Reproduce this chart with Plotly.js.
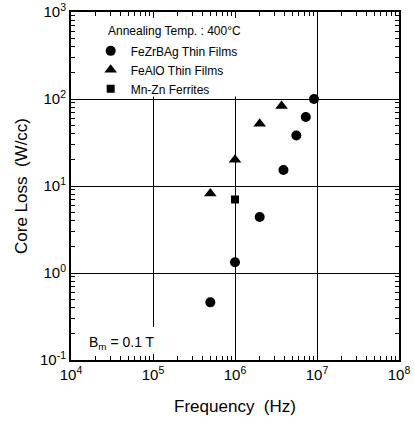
<!DOCTYPE html>
<html>
<head>
<meta charset="utf-8">
<script src="https://cdn.plot.ly/plotly-3.0.1.min.js"></script>
<style>html,body{margin:0;padding:0;background:#fff;}#chart{width:414px;height:422px;}</style>
</head>
<body>
<div id="chart"></div>
<script>
// Data
var fezrFreq = [5e5, 1e6, 2e6, 3.9e6, 5.6e6, 7.3e6, 9.2e6];
var fezrLoss = [0.46, 1.33, 4.4, 15.3, 38, 62, 100];
var fealoFreq = [5e5, 1e6, 2e6, 3.7e6];
var fealoLoss = [8.2, 20, 52, 83];
var mnznFreq = [1e6];
var mnznLoss = [7.0];

var xDecades = [4, 5, 6, 7, 8];
var yDecades = [-1, 0, 1, 2, 3];
var seriesNames = ['FeZrBAg Thin Films', 'FeAlO Thin Films', 'Mn-Zn Ferrites'];

function majorVals(dec) { return dec.map(function (d) { return Math.pow(10, d); }); }
function majorText(dec) { return dec.map(function (d) { return '10<sup>' + (d < 0 ? '-' : '') + Math.abs(d) + '</sup>'; }); }
function minorVals(dec) {
  var v = [];
  for (var i = 0; i < dec.length - 1; i++) for (var k = 2; k <= 9; k++) v.push(k * Math.pow(10, dec[i]));
  return v;
}

var font = 'Liberation Sans, Arial, sans-serif';

var traces = [
  {x: fezrFreq, y: fezrLoss, name: seriesNames[0], mode: 'markers', type: 'scatter',
   marker: {symbol: 'circle', size: 10, color: '#000'}},
  {x: fealoFreq, y: fealoLoss, name: seriesNames[1], mode: 'markers', type: 'scatter',
   marker: {symbol: 'triangle-up', size: 11, color: '#000'}},
  {x: mnznFreq, y: mnznLoss, name: seriesNames[2], mode: 'markers', type: 'scatter',
   marker: {symbol: 'square', size: 8, color: '#000'}}
];

var axisCommon = {
  type: 'log', showline: true, linecolor: '#000', linewidth: 2, mirror: 'ticks',
  ticks: 'inside', ticklen: 6, tickwidth: 1, tickcolor: '#000',
  showgrid: true, gridcolor: '#000', gridwidth: 1, zeroline: false,
  tickfont: {family: font, size: 15, color: '#000'}
};

var layout = {
  width: 414, height: 422,
  margin: {l: 71, r: 15, t: 12, b: 62},
  paper_bgcolor: '#fff', plot_bgcolor: '#fff',
  font: {family: font, color: '#000'},
  showlegend: true,
  legend: {x: 0.06, y: 0.93, xanchor: 'left', yanchor: 'top', bgcolor: 'rgba(0,0,0,0)',
           font: {family: font, size: 12, color: '#000'}, tracegroupgap: 0, itemwidth: 30},
  xaxis: Object.assign({}, axisCommon, {
    range: [4, 8], tickmode: 'array', tickvals: majorVals(xDecades), ticktext: majorText(xDecades),
    minor: {tickmode: 'array', tickvals: minorVals(xDecades), ticks: 'inside', ticklen: 4, tickcolor: '#000', showgrid: false},
    title: {text: 'Frequency\u00a0\u00a0(Hz)', font: {family: font, size: 17, color: '#000'}, standoff: 18}
  }),
  yaxis: Object.assign({}, axisCommon, {
    range: [-1, 3], tickmode: 'array', tickvals: majorVals(yDecades), ticktext: majorText(yDecades),
    minor: {tickmode: 'array', tickvals: minorVals(yDecades), ticks: 'inside', ticklen: 4, tickcolor: '#000', showgrid: false},
    title: {text: 'Core Loss\u00a0\u00a0(W/cc)', font: {family: font, size: 17, color: '#000'}, standoff: 8}
  }),
  shapes: [
    {type: 'rect', layer: 'between', xref: 'x', yref: 'y', x0: 1e4, x1: Math.pow(10, 6.93), y0: Math.pow(10, 2.03), y1: 1e3,
     fillcolor: '#fff', line: {width: 0}},
    {type: 'rect', layer: 'between', xref: 'x', yref: 'y', x0: Math.pow(10, 4.1), x1: Math.pow(10, 5.15), y0: 0.1, y1: Math.pow(10, -0.62),
     fillcolor: '#fff', line: {width: 0}}
  ],
  annotations: [
    {text: 'Annealing Temp. : 400\u00b0C', xref: 'paper', yref: 'paper', x: 0.107, y: 0.945, xanchor: 'left', yanchor: 'middle',
     showarrow: false, font: {family: font, size: 12, color: '#000'}},
    {text: 'B<sub>m</sub> = 0.1 T', xref: 'paper', yref: 'paper', x: 0.05, y: 0.05, xanchor: 'left', yanchor: 'middle',
     showarrow: false, font: {family: font, size: 14, color: '#000'}}
  ]
};

Plotly.newPlot('chart', traces, layout, {displayModeBar: false, staticPlot: true});
</script>
</body>
</html>
